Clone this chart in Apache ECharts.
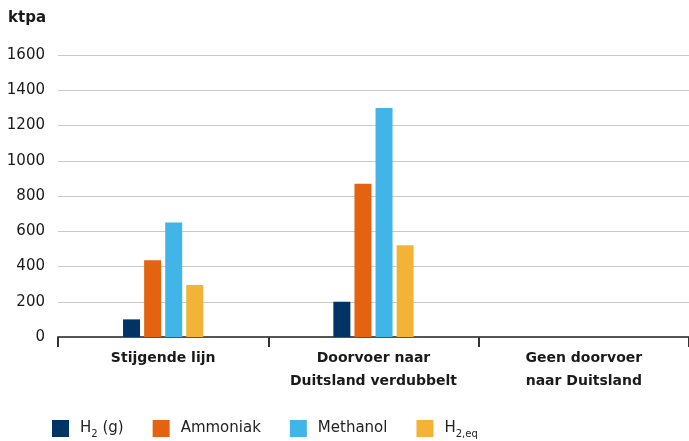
<!DOCTYPE html>
<html>
<head>
<meta charset="utf-8">
<script src="https://cdn.jsdelivr.net/npm/echarts@6/dist/echarts.min.js"></script>
<style>
  html, body { margin: 0; padding: 0; background: #fff; }
  #main { width: 689px; height: 441px; }
</style>
</head>
<body>
<div id="main"></div>
<script>
const categories = ['Stijgende lijn', 'Doorvoer naar\nDuitsland verdubbelt', 'Geen doorvoer\nnaar Duitsland'];
const h2gas = [100, 200, 0];
const ammoniak = [435, 870, 0];
const methanol = [650, 1300, 0];
const h2eq = [295, 520, 0];
const yTicks = [0, 200, 400, 600, 800, 1000, 1200, 1400, 1600];

const font = 'DejaVu Sans';

var chart = echarts.init(document.getElementById('main'));

function bar(name, data, color) {
  return {
    name: name,
    type: 'bar',
    data: data,
    barWidth: 17,
    barGap: '24%',
    itemStyle: { color: color }
  };
}

const option = {
  animation: false,
  textStyle: { fontFamily: font },
  title: {
    text: 'ktpa',
    left: 8,
    top: 11,
    padding: 0,
    textStyle: { fontSize: 15, fontWeight: 'bold', color: '#1a1a1a', fontFamily: font }
  },
  grid: { left: 58, right: 0, top: 55, bottom: 104 },
  legend: {
    left: 52,
    top: 420,
    padding: 0,
    itemWidth: 17,
    itemHeight: 17,
    itemGap: 29,
    icon: 'rect',
    textStyle: {
      fontSize: 15,
      color: '#222',
      fontFamily: font,
      padding: [0, 0, 0, 6],
      rich: {
        sub: { fontSize: 10, verticalAlign: 'bottom', padding: [11, 0, 0, 0], color: '#222', fontFamily: font }
      }
    },
    formatter: function (name) {
      if (name === 'H2 (g)') return 'H{sub|2} (g)';
      if (name === 'H2,eq') return 'H{sub|2,eq}';
      return name;
    },
    data: ['H2 (g)', 'Ammoniak', 'Methanol', 'H2,eq']
  },
  xAxis: {
    type: 'category',
    data: categories,
    axisLine: { lineStyle: { color: '#555', width: 2 } },
    axisTick: { show: true, interval: 0, length: 10, lineStyle: { color: '#333', width: 2 } },
    axisLabel: {
      interval: 0,
      fontSize: 14,
      fontWeight: 'bold',
      color: '#1a1a1a',
      lineHeight: 23,
      margin: 10,
      fontFamily: font
    }
  },
  yAxis: {
    type: 'value',
    min: yTicks[0],
    max: yTicks[yTicks.length - 1],
    interval: 200,
    axisLine: { show: false },
    axisTick: { show: false },
    axisLabel: { fontSize: 15, color: '#1a1a1a', margin: 13, fontFamily: font, formatter: function (v) { return String(v); } },
    splitLine: { lineStyle: { color: '#c8c8cc', width: 1 } }
  },
  series: [
    bar('H2 (g)', h2gas, '#003366'),
    bar('Ammoniak', ammoniak, '#e46310'),
    bar('Methanol', methanol, '#41b5e8'),
    bar('H2,eq', h2eq, '#f2b336')
  ]
};

chart.setOption(option);
</script>
</body>
</html>
